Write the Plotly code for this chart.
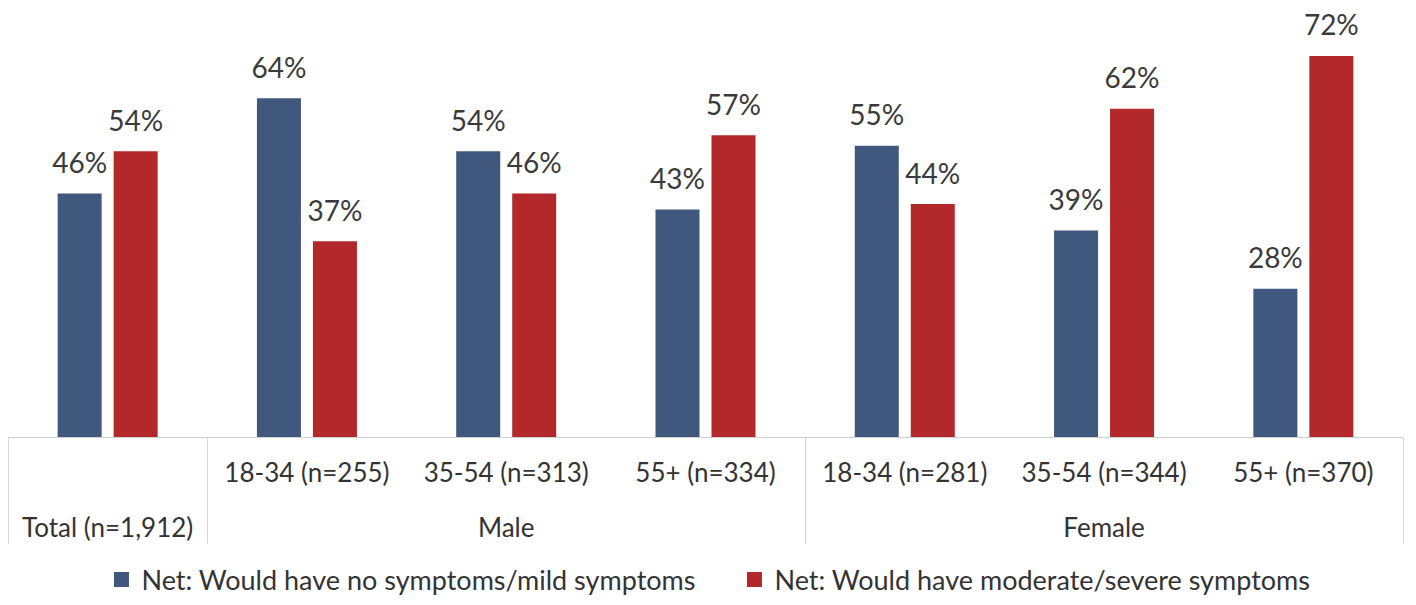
import plotly.graph_objects as go

outer = ["Total (n=1,912)", "Male", "Male", "Male", "Female", "Female", "Female"]
inner = [" ", "18-34 (n=255)", "35-54 (n=313)", "55+ (n=334)",
         "18-34 (n=281)", "35-54 (n=344)", "55+ (n=370)"]
mild = [46, 64, 54, 43, 55, 39, 28]
severe = [54, 37, 46, 57, 44, 62, 72]
series_names = ["Net: Would have no symptoms/mild symptoms",
                "Net: Would have moderate/severe symptoms"]
colors = ["#40587E", "#B3282A"]

FONT = "Lato, Open Sans, sans-serif"
BARGAP = 0.438
GROUPGAP = 0.214
slot = (1 - BARGAP) / 2

fig = go.Figure()
for name, vals, col in zip(series_names, [mild, severe], colors):
    fig.add_trace(go.Bar(
        x=[["<br>" + o for o in outer], inner], y=vals, name=name,
        marker=dict(color=col, line=dict(width=0)), showlegend=False,
    ))

# value labels on an overlaid numeric axis aligned to the category slots
for k, vals in enumerate([mild, severe]):
    xs = [i + (k - 0.5) * slot for i in range(len(vals))]
    fig.add_trace(go.Scatter(
        x=xs, y=vals, xaxis="x2", mode="markers+text",
        marker=dict(size=20, opacity=0), text=[f"{v}%" for v in vals],
        textposition="top center", showlegend=False, hoverinfo="skip",
        textfont=dict(size=28, color="#3a3a3a", family=FONT), cliponaxis=False,
    ))

# legend entries with larger square swatches
for name, col in zip(series_names, colors):
    fig.add_trace(go.Scatter(
        x=[None], y=[None], mode="markers", name=name,
        marker=dict(symbol="square", size=15, color=col), showlegend=True,
    ))

fig.update_layout(
    width=1416, height=605,
    margin=dict(l=0, r=21, t=32, b=176, autoexpand=False),
    paper_bgcolor="white", plot_bgcolor="white",
    barmode="group", bargap=BARGAP, bargroupgap=GROUPGAP,
    font=dict(family=FONT, color="#333333"),
    showlegend=True,
    legend=dict(orientation="h", x=0.067, xanchor="left", y=-0.36, yanchor="middle",
                font=dict(size=27, color="#333333", family=FONT),
                itemwidth=30, tracegroupgap=0, entrywidth=588, entrywidthmode="pixels"),
    xaxis2=dict(overlaying="x", range=[-0.5, len(mild) - 0.5], visible=False),
    xaxis=dict(
        type="multicategory", automargin=False, showline=True, linecolor="#d0d0d0", linewidth=1,
        showdividers=True, dividercolor="#d8d8d8", dividerwidth=1,
        ticks="", ticklabelstandoff=13,
        tickfont=dict(size=26, color="#333333", family=FONT),
        showgrid=False,
    ),
)
fig.update_yaxes(range=[0, 75], visible=False, showgrid=False)

fig.write_html("out.html")
